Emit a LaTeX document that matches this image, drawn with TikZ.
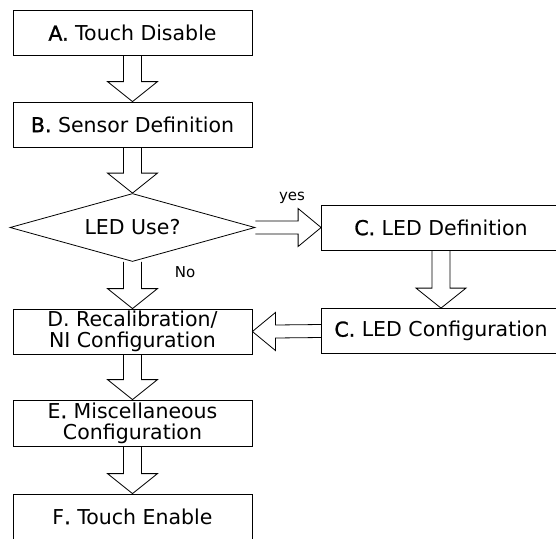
\documentclass[tikz,border=0pt]{standalone}
\usepackage{fontspec}
\setmainfont{DejaVu Sans}
\newfontface\stepletter[FakeBold=1.2]{DejaVu Sans}
\usetikzlibrary{shapes.geometric,calc}

\begin{document}
\begin{tikzpicture}
  [x=1pt,y=-1pt,line width=.8pt,
   box/.style={draw,rectangle,minimum width=239pt,minimum height=45pt,inner sep=0pt,align=center,font=\fontsize{20.5}{21}\selectfont},
   decision/.style={draw,diamond,aspect=3.6,minimum width=245pt,minimum height=68pt,inner sep=0pt,font=\fontsize{20.5}{21}\selectfont},
   lbl/.style={font=\fontsize{15}{15}\selectfont}]
  \clip (0,0) rectangle (556,538);
  \node[box] (a) at (132.5,33)  {{\stepletter A.} Touch Disable};
  \node[box] (b) at (132.5,124.5) {{\stepletter B.} Sensor Definition};
  \node[decision] (use) at (132.5,227.5) {LED Use?};
  \node[box] (cdef) at (441,227.5) {{\stepletter C.} LED Definition};
  \node[box] (ccfg) at (441,331) {{\stepletter C.} LED Configuration};
  \node[box] (d) at (132.5,331.5) {D. Recalibration/\\NI Configuration};
  \node[box,minimum height=46pt] (e) at (132.5,423) {E{\stepletter .} Miscellaneous\\Configuration};
  \node[box] (f) at (132.5,516.5) {F{\stepletter .} Touch Enable};
  \node[lbl] (yes) at (292,198) {yes};
  \node[lbl] (no) at (185,272) {No};

% block arrows going down
\foreach \from/\to in
{a/b, b/use, use/d, d/e, e/f, cdef/ccfg}
    \draw ($(\from.south)+(-9,0)$) -- ($(\to.north)+(-9,-20)$) -- ($(\to.north)+(-25,-20)$) -- (\to.north)
      -- ($(\to.north)+(25,-20)$) -- ($(\to.north)+(9,-20)$) -- ($(\from.south)+(9,0)$);
% block arrows going sideways
\foreach \from/\fa/\to/\ta/\dir in
{use/east/cdef/west/1, ccfg/west/d/east/-1}
    \draw ($(\from.\fa)+(0,-6.5)$) -- ($(\to.\ta)+(-23*\dir,-6.5)$) -- ($(\to.\ta)+(-23*\dir,-19)$) -- (\to.\ta)
      -- ($(\to.\ta)+(-23*\dir,19)$) -- ($(\to.\ta)+(-23*\dir,6.5)$) -- ($(\from.\fa)+(0,6.5)$);
\end{tikzpicture}
\end{document}
